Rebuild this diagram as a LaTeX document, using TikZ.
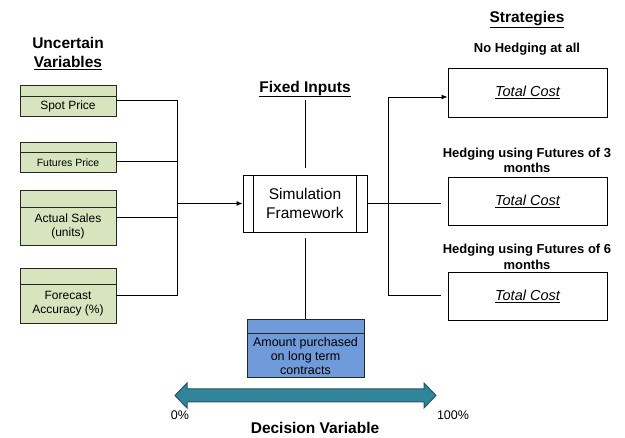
\documentclass[tikz,border=0pt]{standalone}
\usepackage{fontspec}
\setmainfont{Liberation Sans}
\usetikzlibrary{arrows.meta}
\definecolor{gfill}{RGB}{215,228,189}
\definecolor{bfill}{RGB}{112,155,218}
\definecolor{tfill}{RGB}{49,133,155}
\definecolor{tdraw}{RGB}{33,89,104}
\begin{document}
\begin{tikzpicture}[x=1pt,y=-1pt, line width=0.9pt,
  title/.style={font=\fontsize{15.5}{18.7}\selectfont\bfseries, align=center, inner sep=0},
  sub/.style={font=\fontsize{13}{15.5}\selectfont\bfseries, align=center, inner sep=0},
  gbox/.style={draw=black!85, fill=gfill, minimum width=96pt, inner sep=0, line width=0.8pt},
  lbl/.style={font=\fontsize{12}{14}\selectfont, align=center, inner sep=0},
  tcbox/.style={draw, minimum width=159pt, minimum height=48pt, inner sep=0, font=\fontsize{14.5}{17}\selectfont\itshape},
  arr/.style={-{Latex[length=6pt,width=5pt]}}
]
\useasboundingbox (0,0) rectangle (625,438);

% titles
\node[title] (unc) at (68,53.4) {Uncertain\\\underline{Variables}};
\node[title] (fixed) at (305,89) {\underline{Fixed Inputs}};
\node[title] (strat) at (527,20) {\underline{Strategies}};

% uncertain variable boxes
\node[gbox, minimum height=31pt] (spot) at (68,100.5) {};
\draw[black!85, line width=0.8pt] (spot.north west) ++(0,12) -- ++(96,0);
\node[lbl] (spotT) at (68,106.5) {Spot Price};

\node[gbox, minimum height=30pt] (fut) at (68,157) {};
\draw[black!85, line width=0.8pt] (fut.north west) ++(0,11) -- ++(96,0);
\node[lbl, font=\fontsize{10.5}{12}\selectfont] (futT) at (68,162.5) {Futures Price};

\node[gbox, minimum height=55pt] (act) at (68,217.5) {};
\draw[black!85, line width=0.8pt] (act.north west) ++(0,18) -- ++(96,0);
\node[lbl] (actT) at (68,226.3) {Actual Sales\\(units)};

\node[gbox, minimum height=55pt] (fc) at (68,295.5) {};
\draw[black!85, line width=0.8pt] (fc.north west) ++(0,17) -- ++(96,0);
\node[lbl, font=\fontsize{12}{13.5}\selectfont] (fcT) at (68,303.5) {Forecast\\Accuracy (\%)};

% simulation framework
\node[draw, minimum width=124pt, minimum height=57pt, inner sep=0,
      font=\fontsize{15.5}{19.5}\selectfont, align=center] (sim) at (305,203.5) {Simulation\\Framework};
\draw ([xshift=11pt]sim.north west) -- ([xshift=11pt]sim.south west);
\draw ([xshift=-11pt]sim.north east) -- ([xshift=-11pt]sim.south east);

% left connectors
\coordinate (jn) at (177,203.5);
\draw (spot.east) -| (jn);
\draw ([yshift=-4.7pt]fut.east) -| (jn);
\draw (act.east) -| (jn);
\draw (fc.east) -| (jn);
\draw[arr] (jn) -- (sim.west);

% fixed inputs line
\coordinate (fi) at (305,100);
\draw (fi) -- ([yshift=7pt]sim.north);

% decision box
\node[draw=black!85, fill=bfill, minimum width=117pt, minimum height=58pt, inner sep=0, line width=0.8pt] (dec) at (305.5,348) {};
\draw[black!85, line width=0.8pt] (dec.north west) ++(0,15) -- ++(117,0);
\node[lbl, font=\fontsize{12.5}{14}\selectfont] (decT) at (305.5,356) {Amount purchased\\on long term\\contracts};
\draw ([yshift=-6pt]sim.south) -- (sim.south |- dec.north);

% strategies
\node[sub] (s1) at (527,49) {No Hedging at all};
\node[tcbox, minimum height=49pt] (tc1) at (527.5,92.5) {\underline{Total Cost}};
\node[sub] (s2) at (527,160.5) {Hedging using Futures of 3\\months};
\node[tcbox] (tc2) at (527.5,201) {\underline{Total Cost}};
\node[sub, font=\fontsize{13}{16.5}\selectfont\bfseries] (s3) at (527,256.7) {Hedging using Futures of 6\\months};
\node[tcbox] (tc3) at (527.5,296) {\underline{Total Cost}};

% right connectors
\coordinate (m2) at (441,203.5);
\draw (sim.east) -- (m2);
\coordinate (rt) at (388,97);
\coordinate (rb) at (388,295);
\coordinate (e3) at (441,295);
\draw[arr] (e3) -- (rb) -- (rt) -- (rt -| tc1.west);

% decision variable arrow
\fill[tfill, draw=tdraw, line width=1pt] (175,395.5) -- (187,383) -- (187,389) -- (424,389) -- (424,383)
  -- (436,395.5) -- (424,408) -- (424,402) -- (187,402) -- (187,408) -- cycle;
\node[lbl, font=\fontsize{12.5}{14}\selectfont] (p0) at (180,415) {0\%};
\node[lbl, font=\fontsize{12.5}{14}\selectfont] (p100) at (453,415) {100\%};
\node[title] (dv) at (315,428) {Decision Variable};
\end{tikzpicture}
\end{document}
